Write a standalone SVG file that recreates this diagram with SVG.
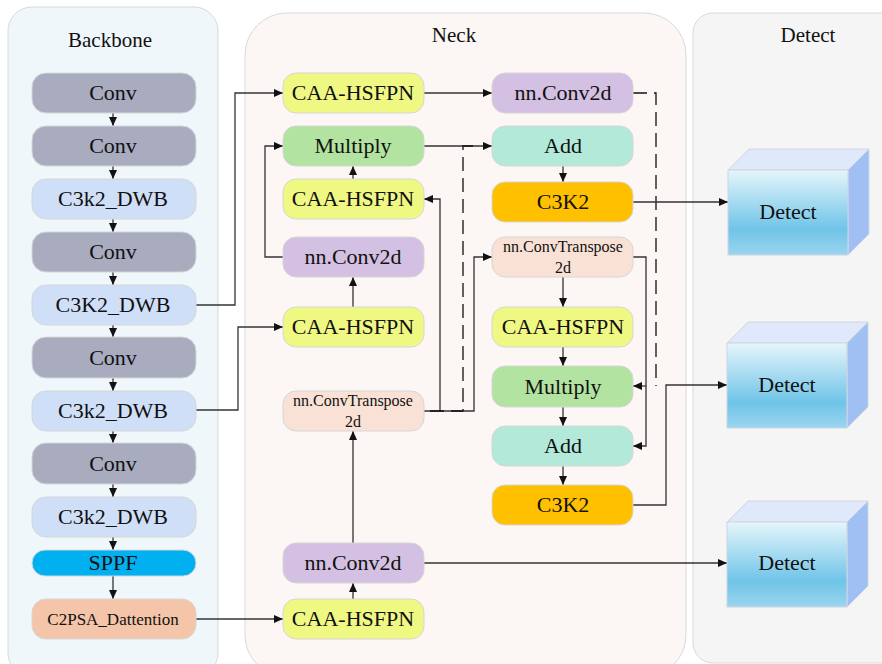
<svg xmlns="http://www.w3.org/2000/svg" width="882" height="664" viewBox="0 0 882 664">
<defs>
<marker id="ah" markerUnits="userSpaceOnUse" markerWidth="9" markerHeight="8" refX="9" refY="4" orient="auto"><path d="M0,0 L9,4 L0,8 z" fill="#111"/></marker>
<linearGradient id="cube" x1="0" y1="0" x2="0" y2="1">
<stop offset="0" stop-color="#e6f5fb"/><stop offset="0.7" stop-color="#6fc4e8"/><stop offset="1" stop-color="#9bd5ef"/>
</linearGradient>
<style>
text{font-family:'Liberation Serif','Times New Roman','DejaVu Serif',serif;fill:#111;text-anchor:middle}
.n{font-size:22px}
.s{font-size:16px}
.title{font-size:21px}
.nd{stroke:#d6d6d6;stroke-width:1}
.conv{fill:#a9abbf}.c3{fill:#cfdff7}.sppf{fill:#00b0f0}.c2{fill:#f4c5a8}
.caa{fill:#f0f884}.mul{fill:#b2e3a0}.cv2{fill:#d4c0e2}.ct{fill:#f9e1d6}.add{fill:#b3e9d8}.k2{fill:#ffc000}
.ln{fill:none;stroke:#333;stroke-width:1.3}
.ar{marker-end:url(#ah)}
.da{stroke-dasharray:14,7;stroke:#111}
</style>
</defs>
<g id="panels" font-family="Liberation Serif, serif">
<rect x="8" y="7" width="210" height="670" rx="24" fill="#f0f7fb" stroke="#d9d9d9"/>
<rect x="245" y="13" width="441" height="664" rx="42" fill="#fcf7f4" stroke="#d9d9d9"/>
<rect x="693" y="13" width="210" height="650" rx="20" fill="#f5f5f5" stroke="#d9d9d9"/>
<text class="title" x="110" y="47">Backbone</text>
<text class="title" x="454" y="42">Neck</text>
<text class="title" x="808" y="42">Detect</text>
</g>
<g id="connectors">
<path class="ln ar" d="M113,113V126"/>
<path class="ln ar" d="M113,166V179"/>
<path class="ln ar" d="M113,219V232"/>
<path class="ln ar" d="M113,272V285"/>
<path class="ln ar" d="M113,325V337"/>
<path class="ln ar" d="M113,378V391"/>
<path class="ln ar" d="M113,431V443"/>
<path class="ln ar" d="M113,484V497"/>
<path class="ln ar" d="M113,537V550"/>
<path class="ln ar" d="M113,576V599"/>
<path class="ln ar" d="M196,305H235V93H283"/>
<path class="ln ar" d="M196,410H238V327H283"/>
<path class="ln ar" d="M196,619H283"/>
<path class="ln ar" d="M353,599V583"/>
<path class="ln ar" d="M353,543V431"/>
<path class="ln ar" d="M424,563H727"/>
<path class="ln ar" d="M353,307V277"/>
<path class="ln ar" d="M283,257H265V146H283"/>
<path class="ln ar" d="M353,179V166"/>
<path class="ln ar" d="M424,146H492"/>
<path class="ln ar" d="M424,411H440V199H424"/>
<path class="ln ar" d="M440,411H474V257H492"/>
<path class="ln da" d="M430,411H463V146H478"/>
<path class="ln ar" d="M424,93H492"/>
<path class="ln da" d="M633,93H656V386"/>
<path class="ln ar" d="M633,257H646V446H633"/>
<path class="ln ar" d="M646,386H633"/>
<path class="ln ar" d="M563,166V182"/>
<path class="ln ar" d="M563,277V307"/>
<path class="ln ar" d="M563,347V366"/>
<path class="ln ar" d="M563,407V426"/>
<path class="ln ar" d="M563,466V485"/>
<path class="ln ar" d="M633,202H728"/>
<path class="ln ar" d="M633,505H666V385H727"/>
</g>
<g id="backbone" font-family="Liberation Serif, serif">
<g id="b1"><rect class="nd conv" x="32" y="73" width="164" height="40" rx="14"/><text class="n" x="113" y="100">Conv</text></g>
<g id="b2"><rect class="nd conv" x="32" y="126" width="164" height="40" rx="14"/><text class="n" x="113" y="153">Conv</text></g>
<g id="b3"><rect class="nd c3" x="32" y="179" width="164" height="40" rx="14"/><text class="n" x="113" y="206">C3k2_DWB</text></g>
<g id="b4"><rect class="nd conv" x="32" y="232" width="164" height="40" rx="14"/><text class="n" x="113" y="259">Conv</text></g>
<g id="b5"><rect class="nd c3" x="32" y="285" width="164" height="40" rx="14"/><text class="n" x="113" y="312">C3K2_DWB</text></g>
<g id="b6"><rect class="nd conv" x="32" y="337" width="164" height="41" rx="14"/><text class="n" x="113" y="365">Conv</text></g>
<g id="b7"><rect class="nd c3" x="32" y="391" width="164" height="40" rx="14"/><text class="n" x="113" y="418">C3k2_DWB</text></g>
<g id="b8"><rect class="nd conv" x="32" y="443" width="164" height="41" rx="14"/><text class="n" x="113" y="471">Conv</text></g>
<g id="b9"><rect class="nd c3" x="32" y="497" width="164" height="40" rx="14"/><text class="n" x="113" y="524">C3k2_DWB</text></g>
<g id="b10"><rect class="nd sppf" x="32" y="550" width="164" height="26" rx="13"/><text class="n" x="113" y="570">SPPF</text></g>
<g id="b11"><rect class="nd c2" x="32" y="599" width="164" height="40" rx="14"/><text style="font-size:17px" x="113" y="625">C2PSA_Dattention</text></g>
</g>
<g id="neck" font-family="Liberation Serif, serif">
<g id="n1"><rect class="nd caa" x="283" y="73" width="141" height="40" rx="13"/><text class="n" x="353" y="100">CAA-HSFPN</text></g>
<g id="n2"><rect class="nd mul" x="283" y="126" width="141" height="40" rx="13"/><text class="n" x="353" y="153">Multiply</text></g>
<g id="n3"><rect class="nd caa" x="283" y="179" width="141" height="40" rx="13"/><text class="n" x="353" y="206">CAA-HSFPN</text></g>
<g id="n4"><rect class="nd cv2" x="283" y="237" width="141" height="40" rx="13"/><text class="n" x="353" y="264">nn.Conv2d</text></g>
<g id="n5"><rect class="nd caa" x="283" y="307" width="141" height="40" rx="13"/><text class="n" x="353" y="334">CAA-HSFPN</text></g>
<g id="n6"><rect class="nd ct" x="283" y="391" width="141" height="40" rx="13"/><text class="s" x="353" y="406">nn.ConvTranspose</text><text class="s" x="353" y="427">2d</text></g>
<g id="n7"><rect class="nd cv2" x="283" y="543" width="141" height="40" rx="13"/><text class="n" x="353" y="570">nn.Conv2d</text></g>
<g id="n8"><rect class="nd caa" x="283" y="599" width="141" height="40" rx="13"/><text class="n" x="353" y="626">CAA-HSFPN</text></g>
<g id="r1"><rect class="nd cv2" x="492" y="73" width="141" height="40" rx="13"/><text class="n" x="563" y="100">nn.Conv2d</text></g>
<g id="r2"><rect class="nd add" x="492" y="126" width="141" height="40" rx="13"/><text class="n" x="563" y="153">Add</text></g>
<g id="r3"><rect class="nd k2" x="492" y="182" width="141" height="40" rx="13"/><text class="n" x="563" y="209">C3K2</text></g>
<g id="r4"><rect class="nd ct" x="492" y="237" width="141" height="40" rx="13"/><text class="s" x="563" y="252">nn.ConvTranspose</text><text class="s" x="563" y="273">2d</text></g>
<g id="r5"><rect class="nd caa" x="492" y="307" width="141" height="40" rx="13"/><text class="n" x="563" y="334">CAA-HSFPN</text></g>
<g id="r6"><rect class="nd mul" x="492" y="366" width="141" height="41" rx="13"/><text class="n" x="563" y="394">Multiply</text></g>
<g id="r7"><rect class="nd add" x="492" y="426" width="141" height="40" rx="13"/><text class="n" x="563" y="453">Add</text></g>
<g id="r8"><rect class="nd k2" x="492" y="485" width="141" height="40" rx="13"/><text class="n" x="563" y="512">C3K2</text></g>
</g>
<g id="detect" font-family="Liberation Serif, serif">
<g id="d1">
<path d="M728,170L749,149H869L848,170Z" fill="#dfe9fb" stroke="#d0d6e0"/>
<path d="M848,170L869,149V234L848,255Z" fill="#a0c0f4" stroke="#d0d6e0"/>
<rect x="728" y="170" width="120" height="85" fill="url(#cube)" stroke="#d0d6e0"/>
<text class="n" x="788" y="219">Detect</text></g>
<g id="d2">
<path d="M727,343L748,322H868L847,343Z" fill="#dfe9fb" stroke="#d0d6e0"/>
<path d="M847,343L868,322V407L847,428Z" fill="#a0c0f4" stroke="#d0d6e0"/>
<rect x="727" y="343" width="120" height="85" fill="url(#cube)" stroke="#d0d6e0"/>
<text class="n" x="787" y="392">Detect</text></g>
<g id="d3">
<path d="M727,522L748,501H868L847,522Z" fill="#dfe9fb" stroke="#d0d6e0"/>
<path d="M847,522L868,501V586L847,607Z" fill="#a0c0f4" stroke="#d0d6e0"/>
<rect x="727" y="522" width="120" height="85" fill="url(#cube)" stroke="#d0d6e0"/>
<text class="n" x="787" y="570">Detect</text></g>
</g>
</svg>
